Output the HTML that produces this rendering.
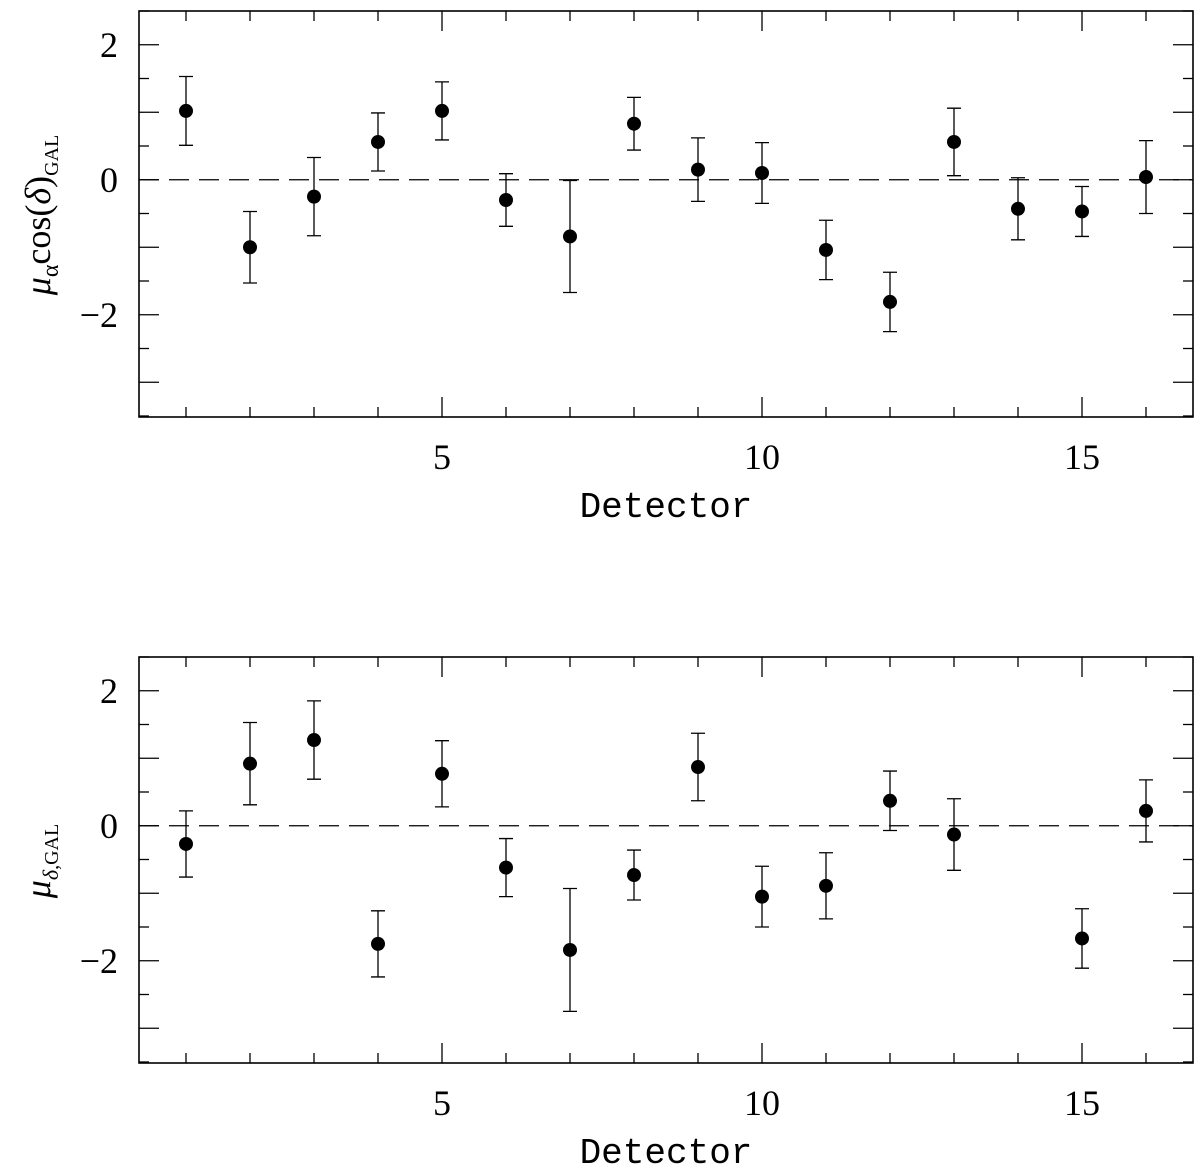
<!DOCTYPE html>
<html><head><meta charset="utf-8"><style>
html,body{margin:0;padding:0;background:#fff;}
svg{display:block;font-family:"Liberation Serif","DejaVu Serif",serif;}
</style></head><body>
<svg id="chart" width="1200" height="1170" viewBox="0 0 1200 1170" xmlns="http://www.w3.org/2000/svg"></svg>
<script>
const detectors = [1,2,3,4,5,6,7,8,9,10,11,12,13,14,15,16];
const muAlpha = [1.02,-1.0,-0.25,0.56,1.02,-0.3,-0.84,0.83,0.15,0.1,-1.04,-1.81,0.56,-0.43,-0.47,0.04];
const muAlphaErr = [0.51,0.53,0.58,0.43,0.43,0.39,0.83,0.39,0.47,0.45,0.44,0.44,0.5,0.46,0.37,0.54];
const detectors2 = [1,2,3,4,5,6,7,8,9,10,11,12,13,15,16];
const muDelta = [-0.27,0.92,1.27,-1.75,0.77,-0.62,-1.84,-0.73,0.87,-1.05,-0.89,0.37,-0.13,-1.67,0.22];
const muDeltaErr = [0.49,0.61,0.58,0.49,0.49,0.43,0.91,0.37,0.5,0.45,0.49,0.44,0.53,0.44,0.46];
const xTickLabels = [5,10,15];
const yTickLabels = [-2,0,2];

const NS="http://www.w3.org/2000/svg";
const svg=document.getElementById('chart');
function mk(tag,attrs,parent){const e=document.createElementNS(NS,tag);for(const k in attrs)e.setAttribute(k,attrs[k]);(parent||svg).appendChild(e);return e;}

function panel(top, xs, ys, errs, name, labelHTML){
  const L=139,R=1193,T=top,B=top+406;
  const xScale=v=>186+(v-1)*64;
  const yScale=v=>T+(2.5-v)*67.5;
  const g=mk('g',{});
  
  
  const fr=mk('rect',{x:L,y:T,width:R-L,height:B-T,fill:'none',stroke:'#000','stroke-width':1.6},g);
  
  
  // x ticks
  for(let i=1;i<=16;i++){
    const x=xScale(i);const len=(i%5===0)?20:10;
    mk('line',{x1:x,y1:B,x2:x,y2:B-len,stroke:'#000','stroke-width':1.3},g);
    mk('line',{x1:x,y1:T,x2:x,y2:T+len,stroke:'#000','stroke-width':1.3},g);
  }
  // y ticks
  for(let v=-3.5;v<=2.5;v+=0.5){
    const y=yScale(v);const major=Math.abs(v%1)<1e-6;const len=major?20:10;
    mk('line',{x1:L,y1:y,x2:L+len,y2:y,stroke:'#000','stroke-width':1.3},g);
    mk('line',{x1:R,y1:y,x2:R-len,y2:y,stroke:'#000','stroke-width':1.3},g);
  }
  xTickLabels.forEach(v=>{
    const t=mk('text',{x:xScale(v),y:B+52,'text-anchor':'middle','font-size':36},g);
    t.textContent=v;
    
    
  });
  yTickLabels.forEach(v=>{
    const t=mk('text',{x:118,y:yScale(v)+12,'text-anchor':'end','font-size':36},g);
    t.textContent=(v<0?'\u2212':'')+Math.abs(v);
    
    
  });
  const xl=mk('text',{x:666,y:B+100,'text-anchor':'middle','font-size':36,'font-family':'Liberation Mono, monospace'},g);
  xl.textContent='Detector';
  
  
  const yl=mk('text',{transform:`translate(50,${T+204}) rotate(-90)`,'text-anchor':'middle','font-size':36},g);
  yl.innerHTML=labelHTML;
  
  
  // zero line
  const zl=mk('line',{x1:L,y1:yScale(0),x2:R,y2:yScale(0),stroke:'#000','stroke-width':1.3,'stroke-dasharray':'20,10'},g);
  
  
  xs.forEach((d,i)=>{
    const x=xScale(d),y=yScale(ys[i]),y1=yScale(ys[i]+errs[i]),y2=yScale(ys[i]-errs[i]);
    const eb=mk('path',{d:`M${x},${y1}V${y2}M${x-7},${y1}H${x+7}M${x-7},${y2}H${x+7}`,stroke:'#000','stroke-width':1.3,fill:'none'},g);
    
    
    const c=mk('circle',{cx:x,cy:y,r:7,fill:'#000'},g);
    
    
  });
}
panel(11,detectors,muAlpha,muAlphaErr,'mu-alpha','<tspan font-style="italic">μ</tspan><tspan font-size="24" dy="8">α</tspan><tspan dy="-8">cos(</tspan><tspan font-style="italic">δ</tspan><tspan>)</tspan><tspan font-size="20" dy="8">GAL</tspan>');
panel(657,detectors2,muDelta,muDeltaErr,'mu-delta','<tspan font-style="italic">μ</tspan><tspan font-size="22" dy="8" font-style="italic">δ</tspan><tspan font-size="20">,GAL</tspan>');
</script>
</body></html>
